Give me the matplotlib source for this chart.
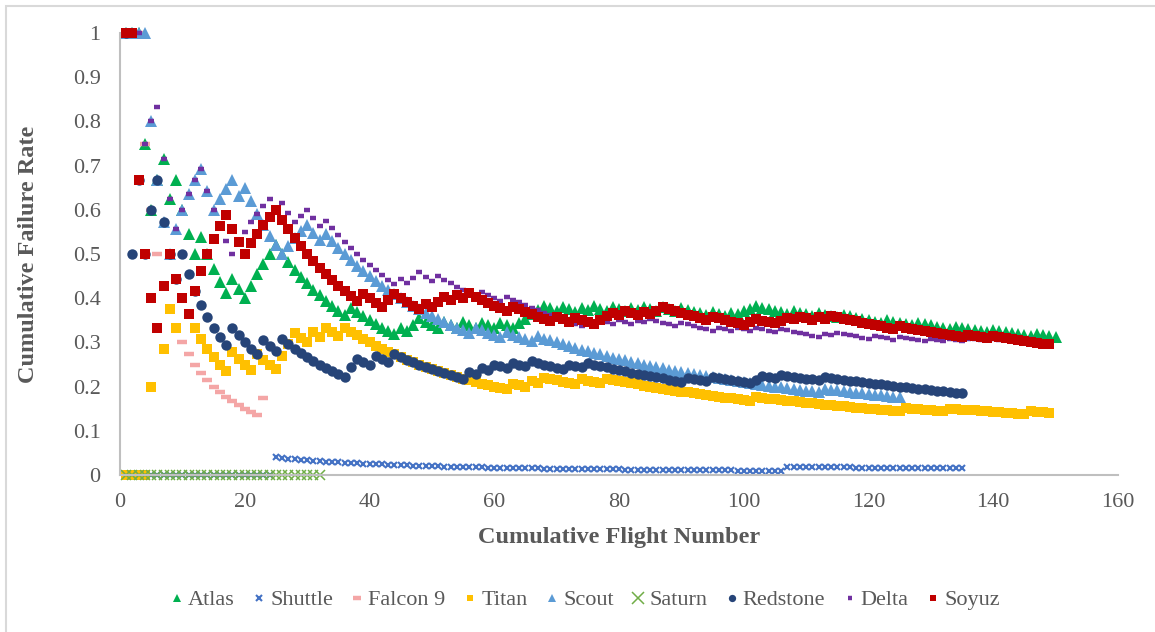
import matplotlib
matplotlib.use('Agg')
import matplotlib.pyplot as plt
import numpy as np
from matplotlib.patches import Rectangle

# Flight counts and failed flight numbers
series_names = ['Atlas', 'Shuttle', 'Falcon 9', 'Titan', 'Scout', 'Saturn', 'Redstone', 'Delta', 'Soyuz']

atlas_flights = 150
atlas_failures = [1, 2, 3, 6, 7, 9, 13, 18, 21, 22, 23, 24, 25, 37, 45, 47, 48, 52, 55, 58, 61, 64,
                  65, 66, 67, 68, 71, 74, 76, 79, 82, 84, 87, 90, 95, 98, 100, 101, 102, 108, 112,
                  116, 123, 128, 134, 140, 147]

shuttle_flights = 135
shuttle_failures = [25, 107]

falcon9_flights = 23
falcon9_failures = [1, 2, 3, 23]

titan_flights = 149
titan_failures = [5, 6, 8, 10, 18, 22, 26, 27, 28, 31, 33, 36, 63, 66, 68, 74, 78, 102, 126, 133, 146]

scout_flights = 125
scout_failures = [1, 2, 3, 4, 9, 10, 11, 12, 13, 16, 17, 18, 20, 27, 28, 29, 30, 33, 57, 62, 67, 113]

saturn_flights = 32
saturn_failures = []

redstone_flights = 135
redstone_failures = [1, 3, 5, 6, 10, 18, 23, 26, 37, 38, 41, 44, 56, 58, 60, 63, 66, 72, 75, 91, 95,
                     102, 103, 106, 113]

delta_flights = 147
delta_failures = [1, 2, 3, 5, 6, 10, 11, 12, 13, 19, 20, 21, 22, 23, 24, 26, 29, 30, 33, 45, 47, 48,
                  51, 58, 62, 75, 77, 80, 83, 85, 90, 96, 99, 102, 106, 113, 115, 121, 125, 130, 133,
                  136, 139, 142, 146]

soyuz_flights = 149
soyuz_failures = [1, 2, 7, 8, 12, 13, 14, 15, 16, 17, 21, 22, 23, 24, 25, 39, 43, 44, 49, 51, 52, 54,
                  56, 63, 70, 73, 77, 78, 79, 81, 84, 86, 87, 95, 101, 102, 106, 107, 109, 112, 114,
                  125, 136, 140]


def cumulative_rate(n, failures):
    outcome = np.zeros(n)
    outcome[np.array(failures, dtype=int) - 1] = 1
    flight_no = np.arange(1, n + 1)
    return flight_no, np.cumsum(outcome) / flight_no


#Styles (excel-like)
####################################################################
styles = {
    'Atlas':    dict(marker='^', color='#00B050', ms=8.5, mew=0),
    'Shuttle':  dict(marker='x', color='#4472C4', ms=4.5, mew=1.5),
    'Falcon 9': dict(marker='_', color='#F4A6A6', ms=7.5, mew=3.2),
    'Titan':    dict(marker='s', color='#FFC000', ms=7, mew=0),
    'Scout':    dict(marker='^', color='#5B9BD5', ms=8.5, mew=0),
    'Saturn':   dict(marker='x', color='#70AD47', ms=7.5, mew=1.1),
    'Redstone': dict(marker='o', color='#264478', ms=7.5, mew=0),
    'Delta':    dict(marker='_', color='#7030A0', ms=5, mew=3.2),
    'Soyuz':    dict(marker='s', color='#C00000', ms=7, mew=0),
}

data = {
    'Atlas': (atlas_flights, atlas_failures),
    'Shuttle': (shuttle_flights, shuttle_failures),
    'Falcon 9': (falcon9_flights, falcon9_failures),
    'Titan': (titan_flights, titan_failures),
    'Scout': (scout_flights, scout_failures),
    'Saturn': (saturn_flights, saturn_failures),
    'Redstone': (redstone_flights, redstone_failures),
    'Delta': (delta_flights, delta_failures),
    'Soyuz': (soyuz_flights, soyuz_failures),
}

plt.rcParams['font.family'] = ['Liberation Serif', 'DejaVu Serif']

fig = plt.figure(figsize=(11.55, 6.32), dpi=100)
ax = fig.add_axes([120 / 1155, 1 - 475 / 632, 998 / 1155, 442 / 632])

for name in series_names:
    x, y = cumulative_rate(*data[name])
    st = styles[name]
    ax.plot(x, y, linestyle='none', marker=st['marker'], color=st['color'],
            markersize=st['ms'], markeredgewidth=st['mew'], label=name, clip_on=False)

ax.set_xlim(0, 160)
ax.set_ylim(0, 1)
ax.set_xticks(range(0, 161, 20))
ax.set_yticks(np.arange(0, 1.01, 0.1))
ax.set_yticklabels(['0', '0.1', '0.2', '0.3', '0.4', '0.5', '0.6', '0.7', '0.8', '0.9', '1'])
ax.tick_params(length=0, labelsize=16, colors='#595959', pad=13)
ax.tick_params(axis='y', pad=14)
for s in ['top', 'right']:
    ax.spines[s].set_visible(False)
for s in ['left', 'bottom']:
    ax.spines[s].set_color('#BFBFBF')
    ax.spines[s].set_linewidth(1.5)

ax.set_xlabel('Cumulative Flight Number', fontsize=17.5, fontweight='bold', color='#595959', labelpad=11)
ax.set_ylabel('Cumulative Failure Rate', fontsize=17.5, fontweight='bold', color='#595959', labelpad=24)

leg = ax.legend(loc='center', bbox_to_anchor=(585 / 1155, (632 - 600) / 632), bbox_transform=fig.transFigure,
                ncol=9, frameon=False, fontsize=16, markerscale=0.7, handlelength=0.6,
                handletextpad=0.2, columnspacing=0.8, labelcolor='#595959')
# shuttle x too small after scaling
leg.legend_handles[1].set_markersize(4.5)
leg.legend_handles[1].set_markeredgewidth(1.5)
leg.legend_handles[5].set_markersize(9)

# chart area border (left/top visible)
fig.add_artist(Rectangle((6 / 1155, -0.01), 1.2, 1 - 6 / 632 + 0.01, transform=fig.transFigure,
                         fill=False, edgecolor='#D9D9D9', linewidth=1.5))

fig.savefig('out.png', dpi=100)
